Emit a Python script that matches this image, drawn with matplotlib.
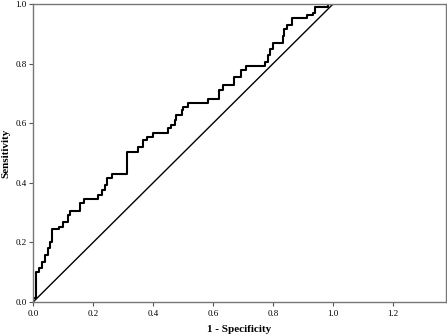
import numpy as np
import matplotlib.pyplot as plt

# ROC step corners (1 - specificity, sensitivity)
fpr = [0.0, 0.0, 0.01, 0.02, 0.03, 0.04, 0.05, 0.057, 0.062, 0.088, 0.099,
       0.118, 0.123, 0.157, 0.171, 0.218, 0.229, 0.24, 0.246, 0.262, 0.312,
       0.351, 0.368, 0.379, 0.401, 0.451, 0.459, 0.473, 0.477, 0.496, 0.501,
       0.518, 0.584, 0.62, 0.634, 0.671, 0.693, 0.71, 0.773, 0.782, 0.79,
       0.801, 0.834, 0.838, 0.847, 0.862, 0.912, 0.934, 0.94, 0.984, 1.0]
tpr = [0.0, 0.012, 0.1, 0.114, 0.134, 0.158, 0.18, 0.2, 0.245, 0.253, 0.27,
       0.292, 0.306, 0.331, 0.345, 0.359, 0.376, 0.393, 0.416, 0.43, 0.504,
       0.521, 0.544, 0.555, 0.568, 0.583, 0.594, 0.611, 0.627, 0.644, 0.655,
       0.667, 0.681, 0.711, 0.728, 0.754, 0.779, 0.792, 0.807, 0.829, 0.85,
       0.869, 0.892, 0.915, 0.93, 0.952, 0.963, 0.97, 0.99, 1.0, 1.0]

xticks = [0.0, 0.2, 0.4, 0.6, 0.8, 1.0, 1.2]
yticks = [0.0, 0.2, 0.4, 0.6, 0.8, 1.0]

plt.rcParams['font.family'] = ['Liberation Serif', 'DejaVu Serif']

fig = plt.figure(figsize=(4.47, 3.36), dpi=100)
ax = fig.add_axes([0.074, 0.101, 0.924, 0.887])

ax.plot(fpr, tpr, drawstyle='steps-post', color='black', linewidth=1.5)
ax.plot([0, 1], [0, 1], color='black', linewidth=1.0)

ax.set_xlim(0, 1.377)
ax.set_ylim(0, 1)
ax.set_xticks(xticks)
ax.set_yticks(yticks)
ax.set_xticklabels(['%.1f' % t for t in xticks])
ax.set_yticklabels(['%.1f' % t for t in yticks])
ax.tick_params(labelsize=6.5, length=3, width=0.8, color='#555555', pad=1.5)
ax.tick_params(axis='x', pad=3)

for s in ax.spines.values():
    s.set_color('#777777')
    s.set_linewidth(1.0)

ax.set_xlabel('1 - Specificity', fontsize=8, fontweight='bold', labelpad=5)
ax.set_ylabel('Sensitivity', fontsize=8, fontweight='bold', labelpad=4)

fig.savefig('out.png', dpi=100)
